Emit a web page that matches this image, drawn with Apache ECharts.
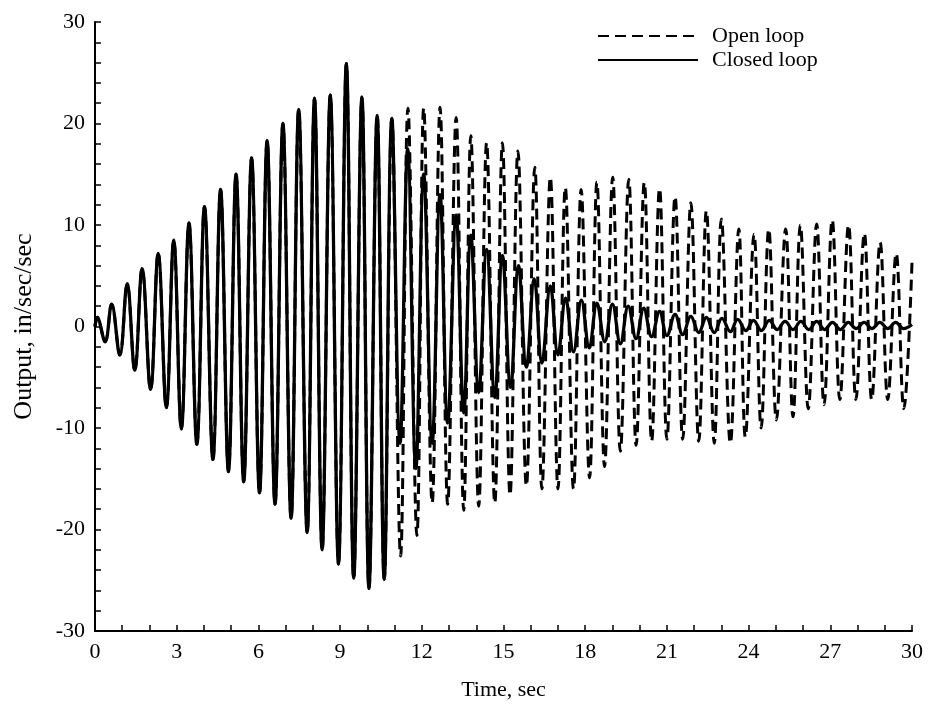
<!DOCTYPE html>
<html>
<head>
<meta charset="utf-8">
<script src="https://cdn.jsdelivr.net/npm/echarts@6/dist/echarts.min.js"></script>
<style>html,body{margin:0;padding:0;background:#fff;}#chart{width:934px;height:709px;}</style>
</head>
<body>
<div id="chart"></div>
<script>
// Shared response (open and closed loop identical before control acts)
const sharedTime = [0, 0.08, 0.37, 0.61, 0.91, 1.18, 1.46, 1.73, 2.04, 2.32, 2.62, 2.89, 3.17, 3.45, 3.74, 4.02, 4.33, 4.61, 4.90, 5.18, 5.46, 5.75, 6.04, 6.32, 6.61, 6.90, 7.20, 7.48, 7.79, 8.06, 8.34, 8.64, 8.94, 9.23, 9.50, 9.80, 10.06, 10.36, 10.62, 10.90];
const sharedValue = [0, 0.9, -1.5, 2.2, -2.8, 4.2, -4.3, 5.7, -6.2, 7.2, -8.0, 8.5, -10.1, 10.2, -11.6, 11.8, -13.1, 13.5, -14.3, 15.0, -15.3, 16.6, -16.4, 18.3, -17.5, 20.0, -18.9, 21.4, -20.3, 22.5, -22.0, 22.8, -23.4, 25.9, -24.8, 22.6, -25.8, 20.8, -24.9, 20.5];

// Open loop continuation
const openTime = [11.22, 11.49, 11.82, 12.07, 12.38, 12.67, 12.95, 13.26, 13.54, 13.80, 14.09, 14.38, 14.68, 14.96, 15.24, 15.53, 15.84, 16.15, 16.41, 16.72, 17.00, 17.27, 17.57, 17.85, 18.16, 18.43, 18.71, 19.01, 19.29, 19.60, 19.87, 20.17, 20.44, 20.73, 21.00, 21.30, 21.58, 21.88, 22.17, 22.45, 22.74, 23.00, 23.33, 23.64, 23.88, 24.20, 24.46, 24.74, 25.02, 25.36, 25.63, 25.90, 26.19, 26.50, 26.77, 27.07, 27.35, 27.67, 27.94, 28.25, 28.52, 28.83, 29.11, 29.42, 29.70, 30.00];
const openValue = [-22.6, 21.5, -20.6, 21.5, -17.4, 21.6, -17.5, 20.6, -18.1, 18.8, -17.7, 18.1, -17.4, 18.1, -16.6, 17.3, -15.7, 15.7, -16.0, 14.7, -16.0, 13.7, -16.0, 13.5, -14.9, 14.2, -13.8, 14.7, -12.3, 14.5, -11.7, 14.2, -11.3, 13.6, -11.1, 12.8, -11.1, 12.2, -11.3, 11.4, -11.5, 10.6, -11.5, 9.6, -10.9, 9.1, -10.0, 9.6, -9.2, 9.6, -8.9, 10.0, -8.1, 10.1, -7.7, 10.5, -7.2, 10.0, -7.2, 9.2, -7.2, 8.3, -7.2, 7.2, -8.1, 6.3];

// Closed loop continuation
const closedTime = [11.20, 11.48, 11.78, 12.07, 12.38, 12.67, 12.95, 13.26, 13.54, 13.80, 14.09, 14.38, 14.68, 14.96, 15.26, 15.55, 15.84, 16.13, 16.41, 16.72, 17.00, 17.28, 17.57, 17.86, 18.15, 18.43, 18.72, 19.00, 19.29, 19.58, 19.87, 20.15, 20.44, 20.73, 21.00, 21.30, 21.58, 21.88, 22.17, 22.45, 22.74, 23.02, 23.33, 23.60, 23.90, 24.18, 24.47, 24.76, 25.05, 25.34, 25.63, 25.92, 26.21, 26.50, 26.79, 27.08, 27.37, 27.66, 27.95, 28.24, 28.53, 28.82, 29.11, 29.40, 29.69, 30.00];
const closedValue = [-11.5, 17.5, -14.0, 15.0, -11.5, 13.0, -9.5, 11.0, -8.5, 9.0, -6.5, 7.6, -7.0, 7.0, -6.0, 6.0, -4.0, 4.7, -3.6, 4.0, -2.8, 2.8, -2.5, 2.6, -2.1, 2.3, -1.5, 2.2, -1.7, 2.0, -1.2, 1.8, -1.0, 1.5, -0.9, 1.2, -0.8, 1.0, -0.6, 0.9, -0.6, 0.8, -0.5, 0.7, -0.4, 0.6, -0.4, 0.6, -0.3, 0.5, -0.3, 0.5, -0.3, 0.5, -0.3, 0.4, -0.3, 0.4, -0.2, 0.4, -0.2, 0.4, -0.2, 0.4, -0.2, 0.2];

const seriesNames = ['Open loop', 'Closed loop'];
const xTicks = [0, 30, 3];
const yTicks = [-30, 30, 10];

function zip(t, v) { return t.map((x, i) => [x, v[i]]); }
const openData = zip(sharedTime.concat(openTime), sharedValue.concat(openValue));
const closedData = zip(sharedTime.concat(closedTime), sharedValue.concat(closedValue));

const FONT = '"Liberation Serif", "DejaVu Serif", serif';
const chart = echarts.init(document.getElementById('chart'), null, {renderer: 'canvas'});
chart.setOption({
  backgroundColor: '#ffffff',
  animation: false,
  grid: {left: 95, right: 22, top: 22, bottom: 78, containLabel: false},
  legend: {
    orient: 'vertical', left: 592, top: 20,
    itemWidth: 100, itemHeight: 14, itemGap: 2,
    itemStyle: {opacity: 0},
    textStyle: {fontFamily: FONT, fontSize: 22, lineHeight: 20, color: '#000', padding: [0, 0, 0, 9]},
    data: seriesNames
  },
  xAxis: {
    type: 'value', min: xTicks[0], max: xTicks[1], interval: xTicks[2],
    name: 'Time, sec', nameLocation: 'middle', nameGap: 48,
    nameTextStyle: {fontFamily: FONT, fontSize: 22, color: '#000'},
    axisLine: {onZero: false, lineStyle: {color: '#000', width: 2}},
    axisTick: {inside: true, length: 6, lineStyle: {color: '#000', width: 1.5}},
    minorTick: {show: true, splitNumber: 3, length: 6, lineStyle: {color: '#000', width: 1.5}},
    axisLabel: {fontFamily: FONT, fontSize: 22, color: '#000', margin: 10},
    splitLine: {show: false}
  },
  yAxis: {
    type: 'value', min: yTicks[0], max: yTicks[1], interval: yTicks[2],
    name: 'Output, in/sec/sec', nameLocation: 'middle', nameGap: 58,
    nameTextStyle: {fontFamily: FONT, fontSize: 26, color: '#000'},
    axisLine: {onZero: false, lineStyle: {color: '#000', width: 2}},
    axisTick: {inside: true, length: 6, lineStyle: {color: '#000', width: 1.5}},
    minorTick: {show: true, splitNumber: 5, length: 6, lineStyle: {color: '#000', width: 1.5}},
    axisLabel: {fontFamily: FONT, fontSize: 22, color: '#000', margin: 10},
    splitLine: {show: false}
  },
  series: [
    {
      name: seriesNames[0], type: 'line', data: openData,
      showSymbol: false, symbol: 'none', smooth: 0.4,
      lineStyle: {color: '#000', width: 3, type: [11, 6]},
      itemStyle: {color: '#000'}
    },
    {
      name: seriesNames[1], type: 'line', data: closedData,
      showSymbol: false, symbol: 'none', smooth: 0.4,
      lineStyle: {color: '#000', width: 3.3},
      itemStyle: {color: '#000'}
    }
  ]
});
</script>
</body>
</html>
